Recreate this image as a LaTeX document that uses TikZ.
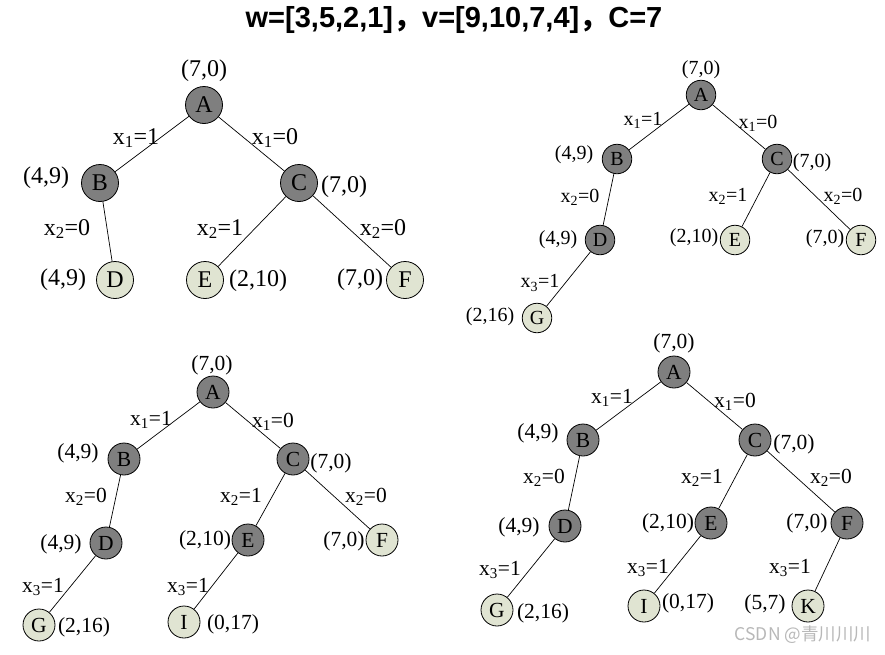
\documentclass[tikz,border=0pt]{standalone}
\usepackage{fontspec}
\setmainfont{Liberation Serif}
\setsansfont{Liberation Sans}
\newfontfamily\cjk{Noto Sans CJK SC}
\definecolor{dkfill}{HTML}{7F7F7F}
\definecolor{ltfill}{HTML}{E0E4D2}
\definecolor{wmark}{HTML}{B8B8B8}
\tikzset{
  dk/.style={circle, draw=black, line width=0.8pt, fill=dkfill, inner sep=0pt},
  lt/.style={circle, draw=black, line width=0.8pt, fill=ltfill, inner sep=0pt},
  lab/.style={inner sep=0pt},
  edge/.style={line width=0.7pt, draw=black}
}
\begin{document}
\begin{tikzpicture}[x=1pt,y=-1pt]
\useasboundingbox (0,0) rectangle (885,654);
\fill[white] (0,0) rectangle (885,654);
% title
\node[lab] (title) at (454,20) {\fontsize{29}{29}\selectfont\sffamily\bfseries w=[3,5,2,1]{\cjk ，}v=[9,10,7,4]{\cjk ，}C=7};

% ---------------- tree 1 ----------------
\begin{scope}[every node/.append style={font=\fontsize{24}{24}\selectfont}, dk/.append style={minimum size=37pt}, lt/.append style={minimum size=37pt}]
\node[dk] (a1) at (204,105) {A};
\node[dk] (b1) at (100,183) {B};
\node[dk] (c1) at (299,183) {C};
\node[lt] (d1) at (115,280) {D};
\node[lt] (e1) at (205,280) {E};
\node[lt] (f1) at (405,280) {F};
\draw[edge] (a1) -- (b1);
\draw[edge] (a1) -- (c1);
\draw[edge] (b1) -- (d1);
\draw[edge] (c1) -- (e1);
\draw[edge] (c1) -- (f1);
\node[lab] (a1v) at (204,71) {(7,0)};
\node[lab] (ab1) at (136,138) {x\textsubscript{1}=1};
\node[lab] (ac1) at (275,138) {x\textsubscript{1}=0};
\node[lab] (b1v) at (46,178) {(4,9)};
\node[lab] (c1v) at (344,187) {(7,0)};
\node[lab] (bd1) at (67,229) {x\textsubscript{2}=0};
\node[lab] (ce1) at (220,229) {x\textsubscript{2}=1};
\node[lab] (cf1) at (383,229) {x\textsubscript{2}=0};
\node[lab] (d1v) at (63,280) {(4,9)};
\node[lab] (e1v) at (258,281) {(2,10)};
\node[lab] (f1v) at (360,280) {(7,0)};
\end{scope}

% ---------------- tree 2 ----------------
\begin{scope}[every node/.append style={font=\fontsize{20}{20}\selectfont}, dk/.append style={minimum size=29.5pt}, lt/.append style={minimum size=29.5pt}]
\node[dk] (a2) at (701,95) {A};
\node[dk] (b2) at (617,159) {B};
\node[dk] (c2) at (777,159) {C};
\node[dk] (d2) at (600,240) {D};
\node[lt] (e2) at (735,240) {E};
\node[lt] (f2) at (861,240) {F};
\node[lt] (g2) at (537,318) {G};
\draw[edge] (a2) -- (b2);
\draw[edge] (a2) -- (c2);
\draw[edge] (b2) -- (d2);
\draw[edge] (c2) -- (e2);
\draw[edge] (c2) -- (f2);
\draw[edge] (d2) -- (g2);
\node[lab] (a2v) at (701,70) {(7,0)};
\node[lab] (ab2) at (643,120) {x\textsubscript{1}=1};
\node[lab] (ac2) at (758,123) {x\textsubscript{1}=0};
\node[lab] (b2v) at (574,155) {(4,9)};
\node[lab] (c2v) at (812,163) {(7,0)};
\node[lab] (bd2) at (580,197) {x\textsubscript{2}=0};
\node[lab] (ce2) at (728,196) {x\textsubscript{2}=1};
\node[lab] (cf2) at (843,196) {x\textsubscript{2}=0};
\node[lab] (d2v) at (558,240) {(4,9)};
\node[lab] (e2v) at (694,238) {(2,10)};
\node[lab] (f2v) at (825,239) {(7,0)};
\node[lab] (dg2) at (540,283) {x\textsubscript{3}=1};
\node[lab] (g2v) at (490,317) {(2,16)};
\end{scope}

% ---------------- tree 3 ----------------
\begin{scope}[every node/.append style={font=\fontsize{21.5}{21.5}\selectfont}, dk/.append style={minimum size=32pt}, lt/.append style={minimum size=32pt}]
\node[dk] (a3) at (213,392) {A};
\node[dk] (b3) at (124,459) {B};
\node[dk] (c3) at (293,459) {C};
\node[dk] (d3) at (106,543) {D};
\node[dk] (e3) at (248,540) {E};
\node[lt] (f3) at (382,540) {F};
\node[lt] (g3) at (39,625) {G};
\node[lt] (i3) at (184,622) {I};
\draw[edge] (a3) -- (b3);
\draw[edge] (a3) -- (c3);
\draw[edge] (b3) -- (d3);
\draw[edge] (c3) -- (e3);
\draw[edge] (c3) -- (f3);
\draw[edge] (d3) -- (g3);
\draw[edge] (e3) -- (i3);
\node[lab] (a3v) at (212,365) {(7,0)};
\node[lab] (ab3) at (151,420) {x\textsubscript{1}=1};
\node[lab] (ac3) at (273,422) {x\textsubscript{1}=0};
\node[lab] (b3v) at (78,453) {(4,9)};
\node[lab] (c3v) at (331,463) {(7,0)};
\node[lab] (bd3) at (86,497) {x\textsubscript{2}=0};
\node[lab] (ce3) at (241,497) {x\textsubscript{2}=1};
\node[lab] (cf3) at (366,497) {x\textsubscript{2}=0};
\node[lab] (d3v) at (61,544) {(4,9)};
\node[lab] (e3v) at (205,540) {(2,10)};
\node[lab] (f3v) at (344,541) {(7,0)};
\node[lab] (dg3) at (43,587) {x\textsubscript{3}=1};
\node[lab] (ei3) at (188,587) {x\textsubscript{3}=1};
\node[lab] (g3v) at (84,627) {(2,16)};
\node[lab] (i3v) at (233,624) {(0,17)};
\end{scope}

% ---------------- tree 4 ----------------
\begin{scope}[every node/.append style={font=\fontsize{21.5}{21.5}\selectfont}, dk/.append style={minimum size=32pt}, lt/.append style={minimum size=32pt}]
\node[dk] (a4) at (674,372) {A};
\node[dk] (b4) at (583,440) {B};
\node[dk] (c4) at (755,440) {C};
\node[dk] (d4) at (565,526) {D};
\node[dk] (e4) at (711,523) {E};
\node[dk] (f4) at (847,523) {F};
\node[lt] (g4) at (497,610) {G};
\node[lt] (i4) at (644,606) {I};
\node[lt] (k4) at (808,606) {K};
\draw[edge] (a4) -- (b4);
\draw[edge] (a4) -- (c4);
\draw[edge] (b4) -- (d4);
\draw[edge] (c4) -- (e4);
\draw[edge] (c4) -- (f4);
\draw[edge] (d4) -- (g4);
\draw[edge] (e4) -- (i4);
\draw[edge] (f4) -- (k4);
\node[lab] (a4v) at (674,343) {(7,0)};
\node[lab] (ab4) at (612,398) {x\textsubscript{1}=1};
\node[lab] (ac4) at (735,402) {x\textsubscript{1}=0};
\node[lab] (b4v) at (538,433) {(4,9)};
\node[lab] (c4v) at (794,444) {(7,0)};
\node[lab] (bd4) at (544,478) {x\textsubscript{2}=0};
\node[lab] (ce4) at (702,478) {x\textsubscript{2}=1};
\node[lab] (cf4) at (831,478) {x\textsubscript{2}=0};
\node[lab] (d4v) at (519,527) {(4,9)};
\node[lab] (e4v) at (668,523) {(2,10)};
\node[lab] (f4v) at (807,523) {(7,0)};
\node[lab] (dg4) at (500,570) {x\textsubscript{3}=1};
\node[lab] (ei4) at (648,568) {x\textsubscript{3}=1};
\node[lab] (fk4) at (790,568) {x\textsubscript{3}=1};
\node[lab] (g4v) at (543,613) {(2,16)};
\node[lab] (i4v) at (688,603) {(0,17)};
\node[lab] (k4v) at (765,604) {(5,7)};
\end{scope}

% watermark
\node[lab, text=wmark] (wm) at (803,635) {\fontsize{17.5}{17.5}\selectfont\cjk CSDN @青川川川};
\end{tikzpicture}
\end{document}
